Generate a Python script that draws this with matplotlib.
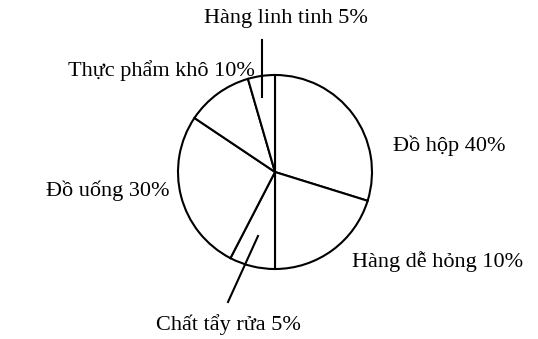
import matplotlib
matplotlib.use('Agg')
import matplotlib.pyplot as plt

# categories, the percentages printed on the labels, and the slice sizes as drawn
categories = ['Đồ hộp', 'Hàng dễ hỏng', 'Chất tẩy rửa', 'Đồ uống', 'Thực phẩm khô', 'Hàng linh tinh']
label_pcts = [40, 10, 5, 30, 10, 5]
drawn_shares = [29.8, 20.2, 7.6, 26.8, 11.1, 4.5]

plt.rcParams['font.family'] = ['Liberation Serif', 'DejaVu Serif']

W, H = 538, 339
fig = plt.figure(figsize=(W / 100, H / 100), dpi=100)
ax = fig.add_axes([0, 0, 1, 1])

cx, cy, r = 275, H - 172, 97
ax.pie(drawn_shares, startangle=90, counterclock=False, center=(cx, cy), radius=r,
       colors=['white'] * len(drawn_shares),
       wedgeprops=dict(edgecolor='black', linewidth=1.5), frame=True)
ax.set_xlim(0, W)
ax.set_ylim(0, H)
ax.set_aspect('equal')
ax.axis('off')

# label anchors in image pixels (x, y from top, horizontal alignment)
label_pos = [(449, 146, 'center'), (438, 262, 'center'), (228, 325, 'center'),
             (108, 191, 'center'), (255, 71, 'right'), (286, 18, 'center')]
for name, pct, (x, y, ha) in zip(categories, label_pcts, label_pos):
    ax.text(x, H - y, f'{name} {pct}%', ha=ha, va='center', fontsize=16)

# leader lines
ax.plot([262, 262], [H - 40, H - 97], color='black', lw=1.5)
ax.plot([258, 228], [H - 236, H - 302], color='black', lw=1.5)

fig.savefig('out.png', dpi=100)
